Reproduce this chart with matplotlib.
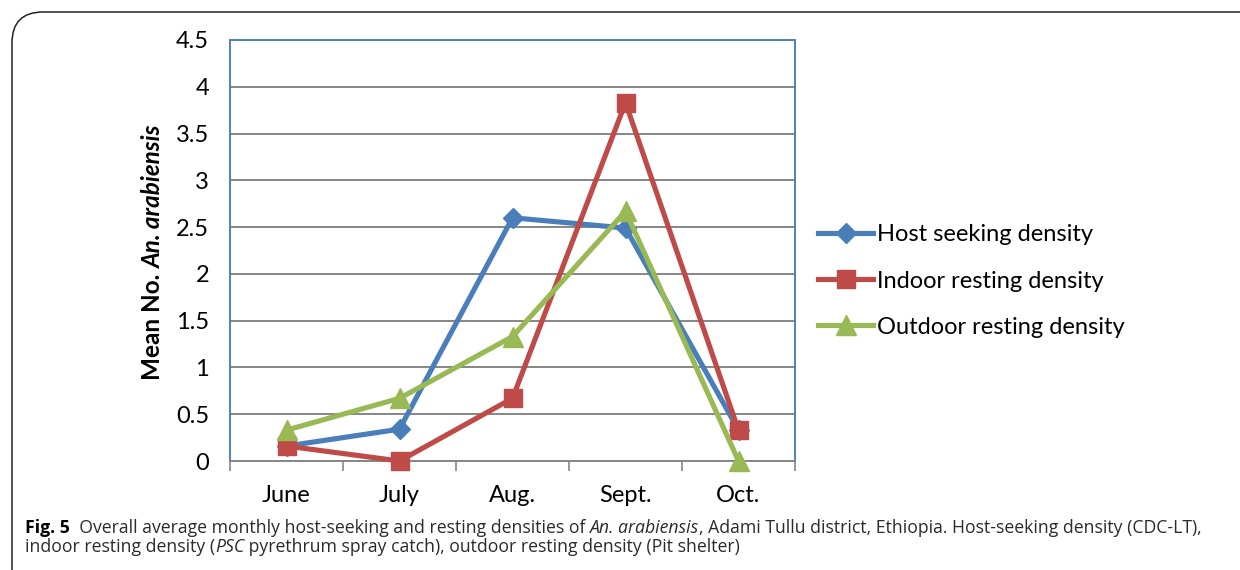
import numpy as np
import matplotlib.pyplot as plt
from matplotlib.patches import FancyBboxPatch

months = ["June", "July", "Aug.", "Sept.", "Oct."]
host_seeking = [0.16, 0.34, 2.60, 2.49, 0.33]
indoor_resting = [0.16, 0.0, 0.67, 3.83, 0.33]
outdoor_resting = [0.33, 0.67, 1.33, 2.67, 0.0]
yticks = [0, 0.5, 1, 1.5, 2, 2.5, 3, 3.5, 4, 4.5]
ytick_labels = ["0", "0.5", "1", "1.5", "2", "2.5", "3", "3.5", "4", "4.5"]

W, H = 1240, 570
fig = plt.figure(figsize=(W / 100, H / 100), dpi=100)
fig.patch.set_facecolor("white")

# outer rounded frame
box = FancyBboxPatch((12 / W, -0.2), 1.2, 1 - 12 / H + 0.2,
                     boxstyle="round,pad=0,rounding_size=0.025",
                     transform=fig.transFigure, fill=False,
                     edgecolor="#222222", linewidth=1.1, mutation_aspect=W / H)
fig.patches.append(box)

ax = fig.add_axes([230 / W, 1 - 461 / H, 565 / W, 421 / H])
x = np.arange(len(months))

ax.plot(x, host_seeking, color="#4A7EBB", lw=3.7, marker="D", ms=10,
        label="Host seeking density", clip_on=False, zorder=3)
ax.plot(x, indoor_resting, color="#BE4B48", lw=3.7, marker="s", ms=13,
        label="Indoor resting density", clip_on=False, zorder=4)
ax.plot(x, outdoor_resting, color="#98B954", lw=3.7, marker="^", ms=14,
        label="Outdoor resting density", clip_on=False, zorder=5)

ax.set_xlim(-0.5, len(months) - 0.5)
ax.set_ylim(0, 4.5)
ax.set_yticks(yticks)
ax.set_yticklabels(ytick_labels)
ax.set_xticks(x)
ax.set_xticklabels(months)
ax.set_xticks(np.arange(-0.5, len(months), 1), minor=True)

for lab in ax.get_yticklabels() + ax.get_xticklabels():
    lab.set_fontfamily("Lato")
    lab.set_fontsize(17)
ax.tick_params(axis="y", length=0, pad=15)
ax.tick_params(axis="x", which="major", length=0, pad=17)
ax.tick_params(axis="x", which="minor", length=7, width=1.2, color="#868686")

ax.grid(axis="y", color="#868686", lw=1.4)
ax.set_axisbelow(True)
for s in ["left", "right", "top"]:
    ax.spines[s].set_color("#4F81BD")
    ax.spines[s].set_linewidth(1.4)
ax.spines["bottom"].set_color("#868686")
ax.spines["bottom"].set_linewidth(1.4)

leg = ax.legend(loc="center left", bbox_to_anchor=(818 / W, 1 - 281 / H),
                bbox_transform=fig.transFigure, frameon=False,
                prop=dict(family="Lato", size=17), handlelength=2.35,
                handletextpad=0.15, labelspacing=1.07, borderpad=0,
                borderaxespad=0)

# y label: "Mean No. " + bold italic "An. arabiensis"
fig.canvas.draw()
r = fig.canvas.get_renderer()
t1 = fig.text(153 / W, 1 - 380 / H, "Mean No. ", rotation=90, ha="center",
              va="bottom", fontfamily="Lato", fontsize=17.5, fontweight="bold")
bb = t1.get_window_extent(r)
fig.text(153 / W, bb.y1 / H, "An. arabiensis", rotation=90, ha="center",
         va="bottom", fontfamily="Lato", fontsize=17.5, fontweight="bold",
         fontstyle="italic")


def runs(xpix, ypix, parts):
    xp = xpix
    for txt, kw in parts:
        style = dict(fontfamily="Open Sans", fontsize=12.7, color="#2b2b2b")
        style.update(kw)
        t = fig.text(xp / W, 1 - ypix / H, txt, ha="left", va="baseline", **style)
        xp = t.get_window_extent(r).x1
    return xp


runs(25, 533, [("Fig. 5", dict(fontweight="bold", color="black")),
               ("  Overall average monthly host-seeking and resting densities of ", {}),
               ("An. arabiensis", dict(fontstyle="italic")),
               (", Adami Tullu district, Ethiopia. Host-seeking density (CDC-LT),", {})])
runs(25, 552, [("indoor resting density (", {}),
               ("PSC", dict(fontstyle="italic")),
               (" pyrethrum spray catch), outdoor resting density (Pit shelter)", {})])

fig.savefig("out.png", dpi=100)
